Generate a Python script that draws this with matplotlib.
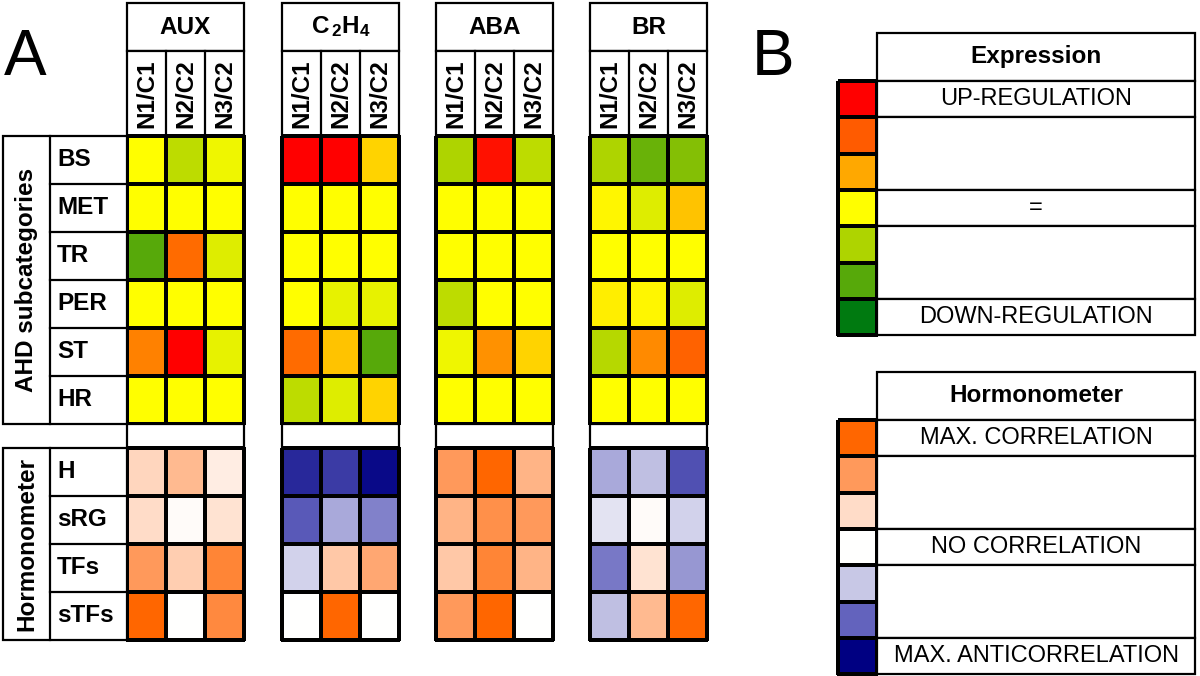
import numpy as np
import matplotlib.pyplot as plt
from matplotlib.colors import LinearSegmentedColormap
from matplotlib.patches import Rectangle

plt.rcParams['font.family'] = ['Liberation Sans', 'DejaVu Sans']
plt.rcParams['mathtext.fontset'] = 'custom'
plt.rcParams['mathtext.bf'] = 'Liberation Sans:bold'
plt.rcParams['mathtext.rm'] = 'Liberation Sans'

hormones = ['AUX', r'$\mathbf{C_{\,2}H_4}$', 'ABA', 'BR']
conditions = ['N1/C1', 'N2/C2', 'N3/C2']
ahd_rows = ['BS', 'MET', 'TR', 'PER', 'ST', 'HR']
horm_rows = ['H', 'sRG', 'TFs', 'sTFs']

# expression: -3 = down-regulation, 0 = unchanged, 3 = up-regulation
aux_expr = [[0, -0.8, -0.2], [0, 0, 0], [-2, 1.8, -0.4],
            [0, 0, 0], [1.5, 3, -0.3], [0, 0, 0]]
c2h4_expr = [[3, 3, 0.5], [0, 0, 0], [0, 0, 0],
             [0, -0.3, -0.3], [1.8, 0.7, -2], [-0.8, -0.4, 0.5]]
aba_expr = [[-1, 2.8, -0.8], [0, 0, 0], [0, 0, 0],
            [-0.8, 0, 0], [-0.2, 1.3, 0.5], [0, 0, 0]]
br_expr = [[-1, -1.8, -1.5], [0.1, -0.4, 0.7], [0, 0, 0],
           [0.2, 0.1, -0.4], [-0.9, 1.4, 1.9], [0, 0, 0]]

# hormonometer: -3 = max. anticorrelation, 3 = max. correlation
aux_horm = [[1.1, 1.5, 0.5], [1.0, 0.1, 0.8], [2.0, 1.2, 2.4], [3, 0, 2.3]]
c2h4_horm = [[-2.6, -2.4, -2.9], [-2.1, -1.3, -1.7], [-0.8, 1.3, 1.8], [0, 3, 0]]
aba_horm = [[2.0, 3, 1.6], [1.6, 2.2, 2.0], [1.3, 2.4, 1.6], [2.0, 3, 0]]
br_horm = [[-1.3, -1.1, -2.2], [-0.5, 0.1, -0.8], [-1.8, 0.8, -1.5], [-1.1, 1.5, 3]]

expr_data = [aux_expr, c2h4_expr, aba_expr, br_expr]
horm_data = [aux_horm, c2h4_horm, aba_horm, br_horm]

legend_levels = [3, 2, 1, 0, -1, -2, -3]
expr_legend = ['UP-REGULATION', '', '=', '', 'DOWN-REGULATION']
horm_legend = ['MAX. CORRELATION', '', 'NO CORRELATION', '', 'MAX. ANTICORRELATION']
legend_spans = [1, 2, 1, 2, 1]

expr_cmap = LinearSegmentedColormap.from_list(
    'expr', ['#007A10', '#58AA0A', '#AED400', '#FFFF00', '#FFA800', '#FF5C00', '#FF0000'])
horm_cmap = LinearSegmentedColormap.from_list(
    'horm', ['#000082', '#6464BE', '#C8C8E6', '#FFFFFF', '#FFDCC8', '#FF9A5C', '#FF6600'])

fig = plt.figure(figsize=(12, 6.76), dpi=100)
ax = fig.add_axes([0, 0, 1, 1])
ax.set_xlim(0, 1200)
ax.set_ylim(676, 0)
ax.axis('off')

lw = 1.6
gx = [127, 282, 436, 590]
cw = 39
rh = 48
y_head, y_lab, y_expr = 3, 51, 136
y_gap = y_expr + rh * len(ahd_rows)
y_horm = y_gap + 24
fs = 17.5


def box(x, y, w, h, fc='white'):
    ax.add_patch(Rectangle((x, y), w, h, facecolor=fc, edgecolor='black', lw=lw))


# panel A
ax.text(4, 58, 'A', fontsize=46, va='center', ha='left')
for g, name in enumerate(hormones):
    x0 = gx[g]
    box(x0, y_head, 3 * cw, y_lab - y_head)
    ax.text(x0 + 1.5 * cw, (y_head + y_lab) / 2, name, fontsize=fs,
            fontweight='bold', ha='center', va='center')
    box(x0, y_lab, 3 * cw, y_expr - y_lab)
    for j, cond in enumerate(conditions):
        if j > 0:
            ax.plot([x0 + j * cw] * 2, [y_lab, y_expr], color='black', lw=lw)
        ax.text(x0 + (j + 0.5) * cw, (y_lab + y_expr) / 2, cond, fontsize=fs,
                fontweight='bold', rotation=90, ha='center', va='center')
    xe = x0 + cw * np.arange(4)
    ax.pcolormesh(xe, y_expr + rh * np.arange(len(ahd_rows) + 1),
                  np.array(expr_data[g]), cmap=expr_cmap, vmin=-3, vmax=3,
                  edgecolors='black', linewidth=lw)
    box(x0, y_gap, 3 * cw, y_horm - y_gap)
    ax.pcolormesh(xe, y_horm + rh * np.arange(len(horm_rows) + 1),
                  np.array(horm_data[g]), cmap=horm_cmap, vmin=-3, vmax=3,
                  edgecolors='black', linewidth=lw)

for y0, rows, title in [(y_expr, ahd_rows, 'AHD subcategories'),
                        (y_horm, horm_rows, 'Hormonometer')]:
    h = rh * len(rows)
    box(3, y0, gx[0] - 3, h)
    ax.plot([50, 50], [y0, y0 + h], color='black', lw=lw)
    ax.text(27, y0 + h / 2, title, fontsize=fs, fontweight='bold',
            rotation=90, ha='center', va='center')
    for i, r in enumerate(rows):
        if i > 0:
            ax.plot([50, gx[0]], [y0 + i * rh] * 2, color='black', lw=lw)
        ax.text(57, y0 + (i + 0.5) * rh, r, fontsize=fs, fontweight='bold',
                ha='left', va='center')

# panel B
ax.text(752, 58, 'B', fontsize=46, va='center', ha='left')
lh = 36.3
for y0, title, labels, cmap in [(33, 'Expression', expr_legend, expr_cmap),
                                (372, 'Hormonometer', horm_legend, horm_cmap)]:
    box(877, y0, 318, 48)
    ax.text(1036, y0 + 24, title, fontsize=fs, fontweight='bold',
            ha='center', va='center')
    ys = y0 + 48
    ax.pcolormesh([838, 877], ys + lh * np.arange(len(legend_levels) + 1),
                  np.array(legend_levels)[:, None], cmap=cmap, vmin=-3, vmax=3,
                  edgecolors='black', linewidth=lw)
    k = 0
    for lab, sp in zip(labels, legend_spans):
        box(877, ys + k * lh, 318, sp * lh)
        ax.text(1036, ys + (k + sp / 2) * lh, lab, fontsize=17,
                ha='center', va='center')
        k += sp

fig.savefig('out.png', dpi=100)
